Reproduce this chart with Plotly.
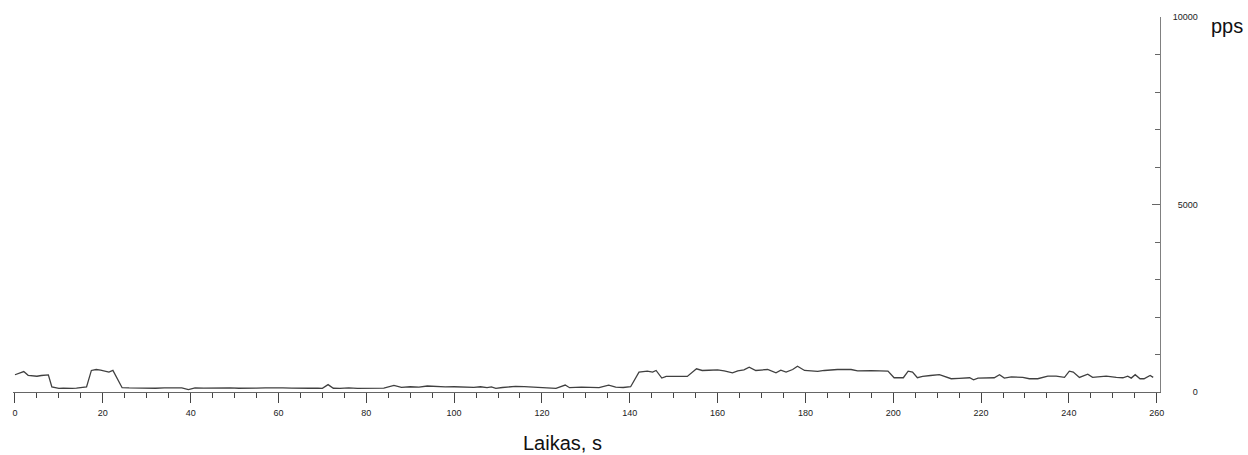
import plotly.graph_objects as go

# time (s) and packets per second
time_s = [0, 1, 2, 3, 4, 5, 6, 7, 7.6, 8.4, 9.3, 10, 11, 12, 13, 14, 15, 16.3,
          17.4, 18.5, 19.5, 20.6, 21.4, 22.3, 23.3, 24.4, 26, 28, 30, 32, 34, 36,
          38, 39.5, 41, 43, 45, 47, 49, 51, 53, 55, 57, 59, 61, 63, 65, 67, 69,
          70, 71.3, 72.5, 74, 76, 78, 80, 82, 84, 86.3, 88, 90, 92, 93.9, 96, 98,
          100, 102, 104.5, 106, 107.5, 108.5, 109.5, 111, 114, 116, 119, 121,
          123.2, 125.3, 126.3, 129, 131, 133, 135.2, 136.8, 138.5, 140.2, 142.1,
          144, 145.2, 146, 147.3, 148.3, 151, 153.1, 155.2, 156.5, 158, 160,
          161.5, 163.4, 164.6, 166, 167.2, 168.7, 171.4, 173.3, 174.4, 175.6,
          177.1, 178.2, 179.8, 182.8, 184.3, 187.3, 190.4, 191.9, 195, 198,
          198.8, 200.2, 202.3, 203.4, 204.4, 205.5, 206.7, 208.5, 210.5, 211,
          213.2, 215, 217.4, 218.3, 219.3, 223, 224.2, 225.3, 226.9, 229.5, 231,
          232.9, 235.2, 237.1, 239, 240.1, 241, 242.4, 243.5, 244.3, 245.4,
          248.5, 250.8, 252.3, 253.4, 254.2, 255.1, 256.2, 257.1, 258.5, 259.2]
pps = [460, 500, 545, 445, 430, 420, 440, 462, 455, 135, 105, 95, 100, 95, 98,
       105, 112, 135, 575, 600, 585, 548, 530, 575, 370, 115, 108, 100, 110, 100,
       112, 104, 110, 65, 108, 105, 112, 104, 110, 100, 112, 106, 110, 100, 108,
       102, 110, 100, 104, 98, 196, 100, 95, 110, 98, 105, 95, 105, 177, 125,
       140, 130, 160, 140, 135, 140, 130, 124, 140, 115, 135, 97, 120, 150, 145,
       124, 115, 97, 185, 115, 130, 120, 115, 185, 130, 120, 140, 530, 556, 530,
       574, 371, 415, 415, 415, 618, 574, 580, 592, 565, 512, 565, 590, 662, 574,
       600, 512, 583, 530, 600, 688, 574, 548, 574, 600, 600, 565, 570, 574, 556,
       380, 380, 556, 530, 380, 415, 440, 461, 442, 354, 365, 380, 327, 371, 380,
       461, 371, 406, 389, 354, 354, 424, 424, 389, 556, 530, 389, 442, 477, 389,
       424, 389, 380, 424, 371, 461, 354, 354, 442, 389]

x_tick_vals = [0, 20, 40, 60, 80, 100, 120, 140, 160, 180, 200, 220, 240, 260]
y_tick_vals = [0, 5000, 10000]
y_tick_text = ["\u2007\u2007\u2007\u20070", "\u20075000", "10000"]

x_title = "Laikas, s"
y_title = "pps"

fig = go.Figure()
fig.add_trace(go.Scatter(
    x=time_s, y=pps, mode="lines",
    line=dict(color="#404040", width=1.3),
    showlegend=False, hoverinfo="skip",
))

tick_font = dict(family="Liberation Sans, Arial, sans-serif", size=9, color="#222222")

fig.update_layout(
    width=1248, height=455,
    margin=dict(l=12, r=88, t=14, b=63),
    paper_bgcolor="white", plot_bgcolor="white",
    xaxis=dict(
        range=[-0.45, 260.75],
        tickmode="array", tickvals=x_tick_vals,
        ticks="outside", ticklen=10, tickwidth=1, tickcolor="#444444",
        showline=True, linecolor="#666666", linewidth=1,
        showgrid=False, zeroline=False,
        tickfont=tick_font, ticklabelstandoff=2,
        minor=dict(dtick=5, tick0=0, ticks="outside", ticklen=5,
                   tickwidth=1, tickcolor="#444444", showgrid=False),
    ),
    yaxis=dict(
        side="right",
        range=[0, 10000],
        tickmode="array", tickvals=y_tick_vals, ticktext=y_tick_text,
        ticks="inside", ticklen=8, tickwidth=1, tickcolor="#666666",
        showline=True, linecolor="#808080", linewidth=1,
        showgrid=False, zeroline=False,
        tickfont=tick_font, ticklabelstandoff=10,
        minor=dict(dtick=1000, tick0=0, ticks="inside", ticklen=5,
                   tickwidth=1, tickcolor="#666666", showgrid=False),
    ),
    annotations=[
        dict(text=x_title, xref="paper", yref="paper",
             x=(562 - 12) / 1148, y=(392 - 443) / 378,
             xanchor="center", yanchor="middle", showarrow=False,
             font=dict(family="Liberation Sans, Arial, sans-serif", size=20, color="#111111")),
        dict(text=y_title, xref="paper", yref="paper",
             x=(1209 - 12) / 1148, y=(392 - 23) / 378,
             xanchor="left", yanchor="middle", showarrow=False,
             font=dict(family="Liberation Sans, Arial, sans-serif", size=20, color="#111111")),
    ],
)

fig.write_html("out.html")
